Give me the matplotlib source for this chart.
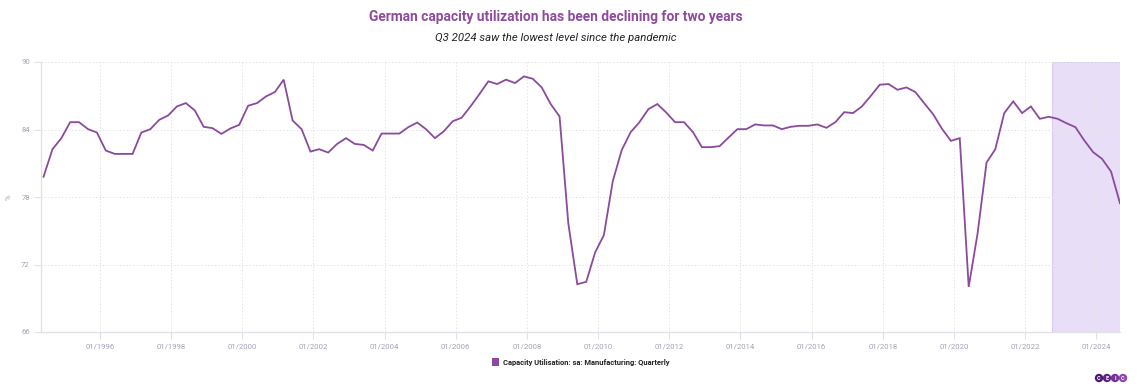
import matplotlib
matplotlib.use("Agg")
import matplotlib.pyplot as plt
from matplotlib.patches import Circle, Rectangle
import pandas as pd

# ---------------- data ----------------
start_quarter = "1994Q2"
end_quarter = "2024Q3"
capacity_utilisation = [
    79.8, 82.25, 83.23,                        # 1994 Q2-Q4
    84.65, 84.65, 84.03, 83.73,                # 1995
    82.13, 81.83, 81.83, 81.83,                # 1996
    83.73, 84.03, 84.86, 85.25,                # 1997
    86.05, 86.35, 85.69, 84.24,                # 1998
    84.12, 83.61, 84.09, 84.42,                # 1999
    86.11, 86.35, 86.94, 87.33,                # 2000
    88.43, 84.80, 84.03, 82.04,                # 2001
    82.25, 81.95, 82.72, 83.23,                # 2002
    82.72, 82.63, 82.13, 83.64,                # 2003
    83.64, 83.64, 84.21, 84.62,                # 2004
    84.03, 83.23, 83.85, 84.74,                # 2005
    85.04, 86.05, 87.15, 88.28,                # 2006
    88.04, 88.43, 88.13, 88.72,                # 2007
    88.51, 87.74, 86.26, 85.16,                # 2008
    75.65, 70.25, 70.46, 73.07,                # 2009
    74.62, 79.43, 82.19, 83.76,                # 2010
    84.65, 85.81, 86.26, 85.51,                # 2011
    84.65, 84.65, 83.76, 82.43,                # 2012
    82.43, 82.52, 83.29, 84.03,                # 2013
    84.03, 84.45, 84.36, 84.36,                # 2014
    84.03, 84.24, 84.33, 84.33,                # 2015
    84.45, 84.15, 84.65, 85.54,                # 2016
    85.46, 86.05, 87.00, 87.98,                # 2017
    88.04, 87.53, 87.74, 87.33,                # 2018
    86.35, 85.37, 84.06, 82.99,                # 2019
    83.23, 70.01, 74.82, 81.06,                # 2020
    82.25, 85.46, 86.50, 85.46,                # 2021
    86.05, 84.95, 85.13, 84.95,                # 2022
    84.56, 84.21, 83.02, 81.98,                # 2023
    81.39, 80.26, 77.44,                       # 2024 Q1-Q3
]
y_ticks = [66, 72, 78, 84, 90]
x_tick_years = list(range(1996, 2025, 2))
x_tick_labels = [f"01/{y}" for y in x_tick_years]
shade_start = "2022-10-01"
shade_end = "2024-09-01"

title = "German capacity utilization has been declining for two years"
subtitle = "Q3 2024 saw the lowest level since the pandemic"
series_name = "Capacity Utilisation: sa: Manufacturing: Quarterly"
logo_letters = ["C", "E", "I", "C"]

# ---------------- style ----------------
purple = "#8b4a9c"
title_purple = "#8e4b9e"
tick_color = "#a3a2ba"
axis_color = "#e2e1e8"
grid_color = "#e4e4e8"

plt.rcParams["font.family"] = ["Roboto", "DejaVu Sans"]

dates = pd.period_range(start_quarter, end_quarter, freq="Q").asfreq("M", "end").to_timestamp()

fig = plt.figure(figsize=(11.4, 3.9), dpi=100)
ax = fig.add_axes([41 / 1140, 1 - 332 / 390, (1120 - 41) / 1140, (332 - 62) / 390])

ax.axvspan(pd.Timestamp(shade_start), pd.Timestamp(shade_end),
           facecolor="#e9def8", edgecolor="#d9cbef", linewidth=0.8, zorder=1)
ax.plot(dates, capacity_utilisation, color=purple, linewidth=1.3, zorder=3,
        solid_joinstyle="miter")

ax.set_ylim(66, 90)
ax.set_yticks(y_ticks)
ax.set_yticklabels([str(v) for v in y_ticks])
ax.set_xlim(pd.Timestamp("1994-05-06"), pd.Timestamp("2024-09-01"))
ax.set_xticks([pd.Timestamp(f"{y}-01-01") for y in x_tick_years])
ax.set_xticklabels(x_tick_labels)

ax.grid(True, color=grid_color, linestyle=(0, (1.5, 2)), linewidth=0.7, zorder=0)
for s in ["top", "right"]:
    ax.spines[s].set_visible(False)
for s in ["left", "bottom"]:
    ax.spines[s].set_color(axis_color)
    ax.spines[s].set_linewidth(1.0)
ax.tick_params(axis="both", colors=axis_color, labelcolor=tick_color,
               labelsize=5.6, length=5, width=0.8, pad=3)
ax.set_ylabel("%", color=tick_color, fontsize=5.6)
ax.yaxis.set_label_coords((12 - 41) / 1079, 0.5)

fig.text(556 / 1140, 1 - 17 / 390, title, ha="center", va="center",
         fontsize=9.9, fontweight="bold", color=title_purple)
fig.text(556 / 1140, 1 - 38 / 390, subtitle, ha="center", va="center",
         fontsize=8.2, fontstyle="italic", color="#222222")

# overlay axes in pixel coords for legend and logo
ov = fig.add_axes([0, 0, 1, 1], zorder=10)
ov.set_xlim(0, 1140)
ov.set_ylim(390, 0)
ov.axis("off")
ov.add_patch(Rectangle((491.5, 358), 7.5, 7.5, facecolor=purple, edgecolor="none"))
ov.text(503, 362, series_name, fontsize=5.45, fontweight="bold",
        color="#222222", va="center", ha="left")

logo_colors = ["#4b1b6f", "#5d2584", "#733399", "#8c48ae"]
for i, (letter, c) in enumerate(zip(logo_letters, logo_colors)):
    cx = 1099 + i * 8
    ov.add_patch(Circle((cx, 378), 4.2, facecolor=c, edgecolor="none"))
    ov.text(cx, 378.3, letter, fontsize=4, fontweight="bold", color="white",
            ha="center", va="center")

fig.savefig("out.png", dpi=100, facecolor="white")
